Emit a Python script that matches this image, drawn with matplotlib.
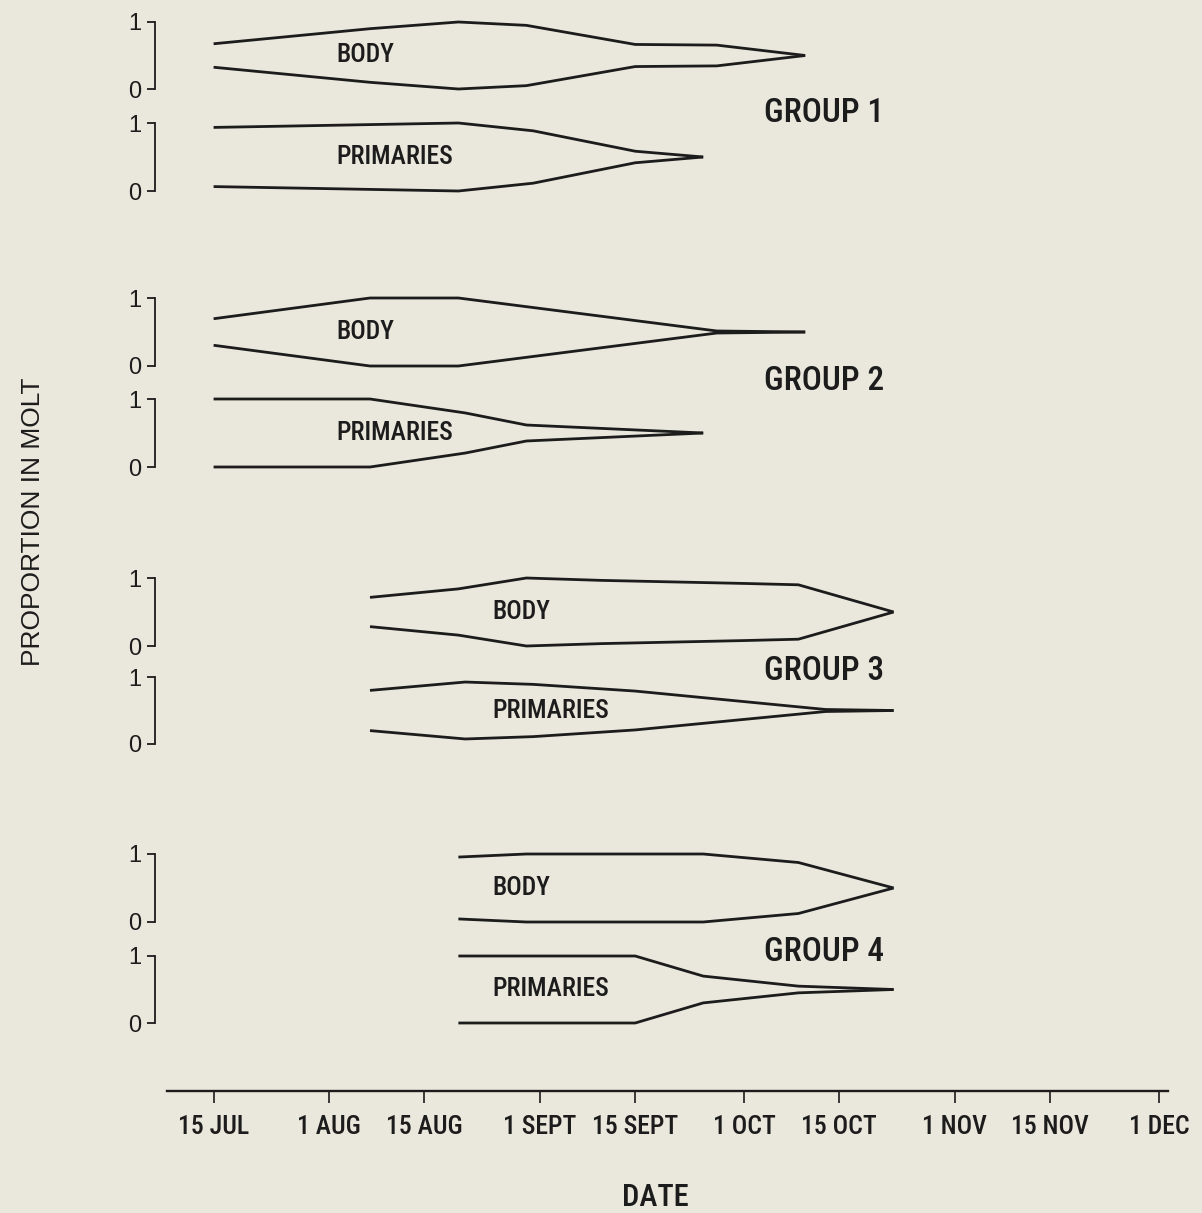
import matplotlib
matplotlib.use('Agg')
import matplotlib.pyplot as plt
import matplotlib.dates as mdates
import pandas as pd
from matplotlib import font_manager as fm

YEAR = 1985

# ---------------- data ----------------
group_names = ['GROUP 1', 'GROUP 2', 'GROUP 3', 'GROUP 4']

g1_body_dates = ['07-15', '08-07', '08-20', '08-30', '09-15', '09-27', '10-10']
g1_body_prop = [0.35, 0.80, 1.00, 0.90, 0.33, 0.31, 0.00]
g1_prim_dates = ['07-15', '08-20', '08-31', '09-15', '09-25']
g1_prim_prop = [0.87, 1.00, 0.77, 0.17, 0.00]

g2_body_dates = ['07-15', '08-07', '08-20', '09-27', '10-10']
g2_body_prop = [0.39, 1.00, 1.00, 0.03, 0.00]
g2_prim_dates = ['07-15', '08-07', '08-21', '08-30', '09-25']
g2_prim_prop = [1.00, 1.00, 0.59, 0.235, 0.00]

g3_body_dates = ['08-07', '08-20', '08-30', '09-10', '10-01', '10-09', '10-23']
g3_body_prop = [0.43, 0.68, 1.00, 0.93, 0.84, 0.80, 0.00]
g3_prim_dates = ['08-07', '08-21', '08-31', '09-15', '10-13', '10-23']
g3_prim_prop = [0.60, 0.85, 0.78, 0.58, 0.03, 0.00]

g4_body_dates = ['08-20', '08-30', '09-25', '10-09', '10-23']
g4_body_prop = [0.91, 1.00, 1.00, 0.75, 0.00]
g4_prim_dates = ['08-20', '09-15', '09-25', '10-09', '10-23']
g4_prim_prop = [1.00, 1.00, 0.40, 0.10, 0.00]

tick_dates = ['07-15', '08-01', '08-15', '09-01', '09-15', '10-01', '10-15',
              '11-01', '11-15', '12-01']
tick_labels = ['15 JUL', '1 AUG', '15 AUG', '1 SEPT', '15 SEPT', '1 OCT',
               '15 OCT', '1 NOV', '15 NOV', '1 DEC']

series = [
    (g1_body_dates, g1_body_prop, g1_prim_dates, g1_prim_prop),
    (g2_body_dates, g2_body_prop, g2_prim_dates, g2_prim_prop),
    (g3_body_dates, g3_body_prop, g3_prim_dates, g3_prim_prop),
    (g4_body_dates, g4_body_prop, g4_prim_dates, g4_prim_prop),
]


def to_num(strs):
    return [mdates.date2num(pd.Timestamp(f'{YEAR}-{s}')) for s in strs]


def pick_condensed():
    cands = [('Liberation Sans Narrow', 'normal'), ('Roboto Condensed', 'normal'),
             ('Noto Sans', 'condensed'), ('DejaVu Sans', 'condensed'),
             ('Open Sans', 'condensed')]
    for fam, stretch in cands:
        try:
            path = fm.findfont(fm.FontProperties(family=fam, stretch=stretch),
                               fallback_to_default=False)
        except Exception:
            continue
        if stretch == 'normal' or 'ond' in path.rsplit('/', 1)[-1]:
            # prefer a medium weight face of the same family if present
            name = None
            for f in fm.fontManager.ttflist:
                if f.fname == path:
                    name = f.name
                    break
            for f in fm.fontManager.ttflist:
                if (f.name == name and f.style == 'normal' and f.weight in (500, 'medium')
                        and ('ond' in f.fname or stretch == 'normal')):
                    return fm.FontProperties(fname=f.fname)
            return fm.FontProperties(fname=path)
    return None


COND = pick_condensed()
REG = 'Liberation Sans'


def nfont(size):
    if COND is not None:
        fp = COND.copy()
        fp.set_size(size)
    else:
        fp = fm.FontProperties(family=REG, size=size * 0.85)
    return fp


# ---------------- layout ----------------
W, H = 1202, 1213
BG = '#EAE7DC'
INK = '#1c1c1c'
fig = plt.figure(figsize=(W / 100, H / 100), dpi=100, facecolor=BG)

AX_L, AX_R = 167, 1168
AXIS_Y = 1091
ref = mdates.date2num(pd.Timestamp(f'{YEAR}-07-15'))
XLIM = (ref - 6.85, ref + 140.35)

# (top px of value 1, bottom px of value 0) for body and primaries panels
panel_px = [((22, 89), (123, 191)),
            ((298, 366), (399, 467)),
            ((578, 646), (677, 744)),
            ((854, 922), (956, 1023))]
group_label_px = [112.5, 381, 671, 952]
label_x = ['08-02', '08-02', '08-25', '08-25']
group_label_x = '10-04'


def make_ax(top, bot):
    ax = fig.add_axes([AX_L / W, 1 - bot / H, (AX_R - AX_L) / W, (bot - top) / H])
    ax.set_facecolor('none')
    ax.set_xlim(*XLIM)
    ax.set_ylim(0, 1)
    for s in ['top', 'right', 'bottom']:
        ax.spines[s].set_visible(False)
    ax.spines['left'].set_position(('outward', 8.6))
    ax.spines['left'].set_bounds(0, 1)
    ax.spines['left'].set_linewidth(1.3)
    ax.spines['left'].set_color(INK)
    ax.set_xticks([])
    ax.set_yticks([0, 1])
    ax.set_yticklabels(['0', '1'])
    ax.tick_params(axis='y', direction='out', length=5.8, width=1.3, pad=4,
                   colors=INK, labelsize=17)
    for t in ax.get_yticklabels():
        t.set_family(REG)
    return ax


for gi, (bd, bp, pdts, pp) in enumerate(series):
    for pi, (dates, prop, name) in enumerate([(bd, bp, 'BODY'), (pdts, pp, 'PRIMARIES')]):
        top, bot = panel_px[gi][pi]
        ax = make_ax(top, bot)
        xs = to_num(dates)
        upper = [0.5 + p / 2 for p in prop]
        lower = [0.5 - p / 2 for p in prop]
        ax.plot(xs, upper, color=INK, lw=2.0, clip_on=False, solid_capstyle='butt')
        ax.plot(xs, lower, color=INK, lw=2.0, clip_on=False, solid_capstyle='butt')
        ax.text(to_num([label_x[gi]])[0], 0.5, name, ha='left', va='center',
                fontproperties=nfont(18.5), color=INK)
        if pi == 0:
            yfrac = (bot - group_label_px[gi]) / (bot - top)
            ax.text(to_num([group_label_x])[0], yfrac, group_names[gi], ha='left',
                    va='center', fontproperties=nfont(24), color=INK)

# bottom date axis
axx = fig.add_axes([AX_L / W, 1 - AXIS_Y / H, (AX_R - AX_L) / W, 1 / H])
axx.set_facecolor('none')
axx.set_xlim(*XLIM)
for s in ['top', 'right', 'left']:
    axx.spines[s].set_visible(False)
axx.spines['bottom'].set_linewidth(1.7)
axx.spines['bottom'].set_color(INK)
axx.set_yticks([])
axx.set_xticks(to_num(tick_dates))
axx.set_xticklabels(tick_labels)
axx.tick_params(axis='x', direction='out', length=8.6, width=1.2, pad=9,
                colors=INK)
for t in axx.get_xticklabels():
    t.set_fontproperties(nfont(18.5))

fig.text(655 / W, 1 - 1197 / H, 'DATE', ha='center', va='center',
         fontproperties=nfont(22), color=INK)
fig.text(33 / W, 1 - 522 / H, 'PROPORTION IN MOLT', ha='center', va='center',
         rotation=90, family=REG, fontsize=19, color=INK)

fig.savefig('out.png', dpi=100, facecolor=BG)
